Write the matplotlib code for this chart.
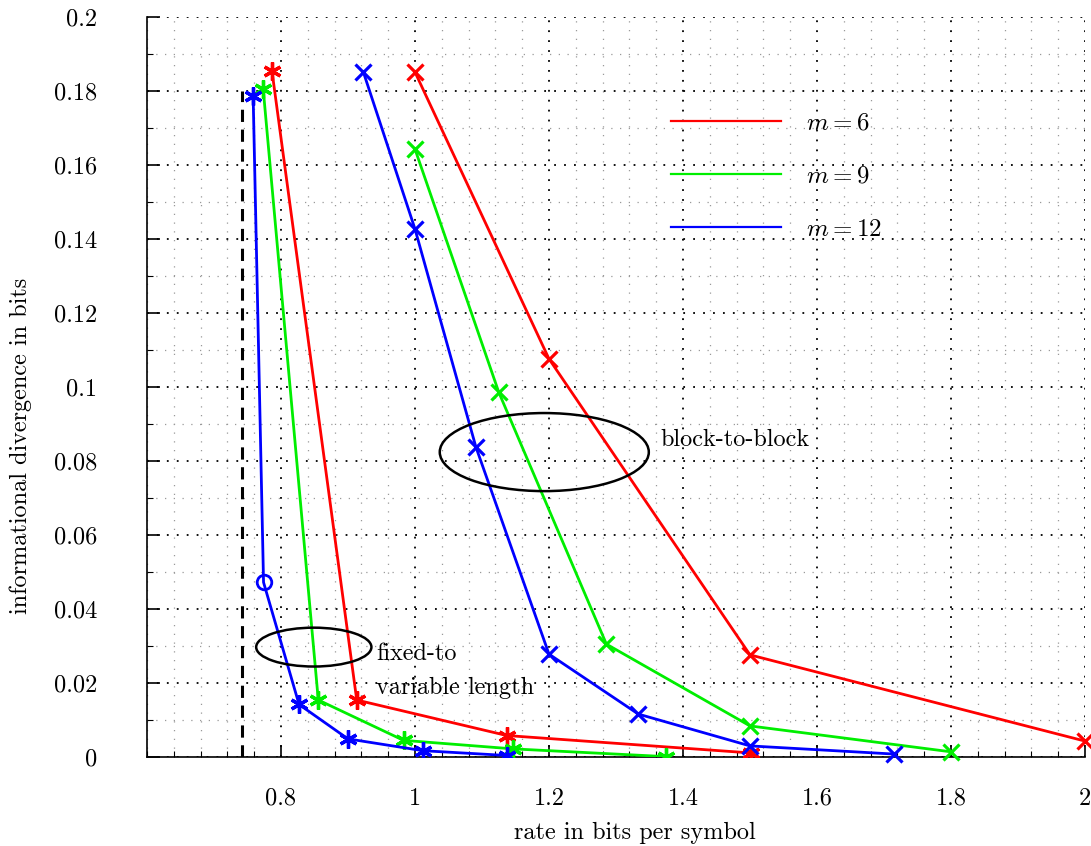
import matplotlib
matplotlib.use("Agg")
import matplotlib.pyplot as plt
from matplotlib.lines import Line2D
from matplotlib.patches import Ellipse
from matplotlib.ticker import MultipleLocator

plt.rcParams['font.family'] = 'serif'
plt.rcParams['font.serif'] = ['cmr10', 'DejaVu Serif']
plt.rcParams['mathtext.fontset'] = 'cm'
plt.rcParams['axes.formatter.use_mathtext'] = True

# fixed-to-variable length (asterisk markers)
fv6_x = [0.7865, 0.9131, 1.1371, 1.501]
fv6_y = [0.1855, 0.0154, 0.0058, 0.0011]
fv9_x = [0.7735, 0.8557, 0.983, 1.146, 1.375]
fv9_y = [0.1805, 0.0154, 0.0045, 0.0022, 0.0001]
fv12_x = [0.7585, 0.774, 0.827, 0.900, 1.012, 1.138]
fv12_y = [0.1785, 0.0472, 0.0142, 0.0049, 0.0017, 0.0004]

# block-to-block (x markers)
bb6_x = [1.0, 1.2, 1.5, 2.0]
bb6_y = [0.1851, 0.1076, 0.0276, 0.0043]
bb9_x = [1.0, 1.125, 1.2857, 1.5, 1.8]
bb9_y = [0.1643, 0.0986, 0.0305, 0.0084, 0.0014]
bb12_x = [0.923, 1.0, 1.0909, 1.2, 1.3333, 1.5, 1.7143]
bb12_y = [0.1851, 0.1427, 0.0838, 0.0278, 0.0116, 0.003, 0.0008]

entropy = 0.742
labels = ['$m=6$', '$m=9$', '$m=12$']
colors = ['#ff0000', '#00ee00', '#0000ff']

fs = 17.5

fig = plt.figure(figsize=(10.91, 8.46), dpi=100)
ax = fig.add_axes([0.1347, 0.1052, 0.8598, 0.8748])

ast = (6, 2, 0)
lw = 2.0
for x, y, c in [(fv6_x, fv6_y, colors[0]), (fv9_x, fv9_y, colors[1])]:
    ax.plot(x, y, color=c, lw=lw, marker=ast, ms=13, mew=2.4, zorder=3)
# m=12 fixed-to-variable: second point is a circle
ax.plot(fv12_x, fv12_y, color=colors[2], lw=lw, zorder=3)
ax.plot([fv12_x[0]] + fv12_x[2:], [fv12_y[0]] + fv12_y[2:], ls='none',
        color=colors[2], marker=ast, ms=13, mew=2.4, zorder=3)
ax.plot(fv12_x[1], fv12_y[1], ls='none', marker='o', ms=10.5, mfc='none',
        mec=colors[2], mew=2, zorder=3)

for x, y, c in [(bb6_x, bb6_y, colors[0]), (bb9_x, bb9_y, colors[1]), (bb12_x, bb12_y, colors[2])]:
    ax.plot(x, y, color=c, lw=lw, marker='x', ms=11, mew=2.3, zorder=3, clip_on=False)

ax.plot([entropy, entropy], [0, 0.18], color='black', lw=2.2, ls=(0, (4, 2.5)), zorder=2)

ax.add_patch(Ellipse((1.193, 0.0824), 0.312, 0.0211, fill=False, ec='black', lw=1.8, zorder=4))
ax.add_patch(Ellipse((0.849, 0.0297), 0.172, 0.0105, fill=False, ec='black', lw=1.8, zorder=4))
ax.text(1.366, 0.0857, 'block-to-block', fontsize=fs, va='center', ha='left')
ax.text(0.942, 0.0278, 'fixed-to', fontsize=fs, va='center', ha='left')
ax.text(0.942, 0.0186, 'variable length', fontsize=fs, va='center', ha='left')

handles = [Line2D([], [], color=c, lw=1.6) for c in colors]
ax.legend(handles, labels, loc='upper left', bbox_to_anchor=(0.5458, 0.888), frameon=False,
          fontsize=18, handlelength=4.4, handletextpad=1.0, labelspacing=1.22, borderpad=0)

ax.set_xlim(0.6, 2.0)
ax.set_ylim(0, 0.2)
ax.set_xticks([0.8, 1.0, 1.2, 1.4, 1.6, 1.8, 2.0])
ax.set_xticklabels(['0.8', '1', '1.2', '1.4', '1.6', '1.8', '2'])
ax.set_yticks([0, 0.02, 0.04, 0.06, 0.08, 0.1, 0.12, 0.14, 0.16, 0.18, 0.2])
ax.set_yticklabels(['0', '0.02', '0.04', '0.06', '0.08', '0.1', '0.12', '0.14', '0.16', '0.18', '0.2'])
ax.xaxis.set_minor_locator(MultipleLocator(0.04))
ax.yaxis.set_minor_locator(MultipleLocator(0.01))
ax.tick_params(which='major', direction='in', length=9, width=1.2, labelsize=fs)
ax.tick_params(axis='y', which='major', pad=36)
ax.tick_params(axis='x', which='major', pad=22)
ax.tick_params(which='minor', direction='in', length=4, width=0.8)
ax.spines['top'].set_visible(False)
ax.spines['right'].set_visible(False)
ax.spines['left'].set_linewidth(1.2)
ax.spines['bottom'].set_linewidth(1.2)

ax.grid(which='major', color='black', lw=1.3, ls=(0, (1, 4.5)))
ax.grid(which='minor', color='#999999', lw=0.9, ls=(0, (1, 6)))
ax.set_axisbelow(True)

ax.set_xlabel('rate in bits per symbol', fontsize=fs)
ax.set_ylabel('informational divergence in bits', fontsize=fs)
ax.xaxis.set_label_coords(0.52, -0.088)
ax.yaxis.set_label_coords(-0.123, 0.42)

fig.savefig('out.png', dpi=100)
